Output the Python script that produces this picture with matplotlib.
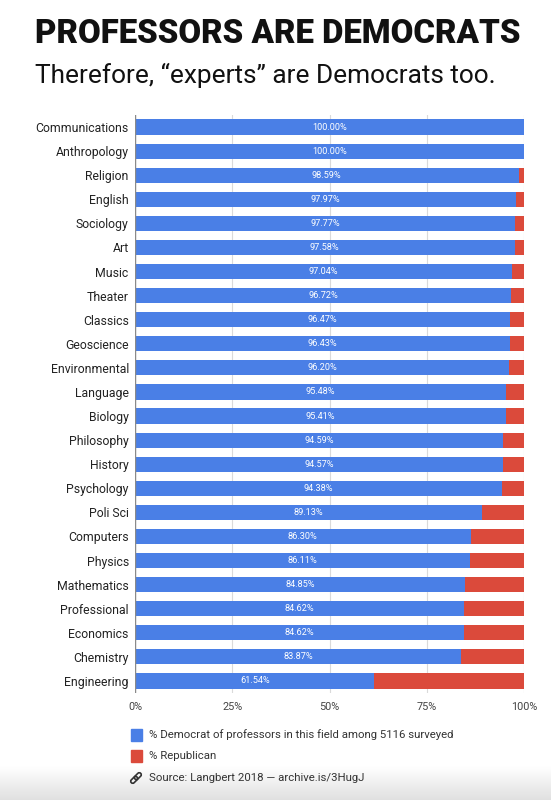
import numpy as np
import matplotlib.pyplot as plt
import matplotlib.transforms as mtransforms
from matplotlib.patches import Rectangle, FancyBboxPatch

fields = ['Communications', 'Anthropology', 'Religion', 'English', 'Sociology',
          'Art', 'Music', 'Theater', 'Classics', 'Geoscience', 'Environmental',
          'Language', 'Biology', 'Philosophy', 'History', 'Psychology',
          'Poli Sci', 'Computers', 'Physics', 'Mathematics', 'Professional',
          'Economics', 'Chemistry', 'Engineering']
democrat = [100.00, 100.00, 98.59, 97.97, 97.77, 97.58, 97.04, 96.72, 96.47,
            96.43, 96.20, 95.48, 95.41, 94.59, 94.57, 94.38, 89.13, 86.30,
            86.11, 84.85, 84.62, 84.62, 83.87, 61.54]
republican = [0.00, 0.00, 1.41, 2.03, 2.23, 2.42, 2.96, 3.28, 3.53,
              3.57, 3.80, 4.52, 4.59, 5.41, 5.43, 5.62, 10.87, 13.70,
              13.89, 15.15, 15.38, 15.38, 16.13, 38.46]
xticks = [0, 25, 50, 75, 100]
xtick_labels = ['0%', '25%', '50%', '75%', '100%']

title = 'PROFESSORS ARE DEMOCRATS'
subtitle = 'Therefore, \u201cexperts\u201d are Democrats too.'
legend_dem = '% Democrat of professors in this field among 5116 surveyed'
legend_rep = '% Republican'
source = 'Source: Langbert 2018 \u2014 archive.is/3HugJ'

blue = '#4a7fe6'
red = '#db4a3b'

plt.rcParams['font.family'] = ['Roboto', 'DejaVu Sans']

W, H = 551, 800
fig = plt.figure(figsize=(W / 100, H / 100), dpi=100)
fig.patch.set_facecolor('white')


def px(x, y):
    # pixel position (from top-left) -> figure fraction
    return x / W, 1 - y / H


def fit(t, width_px):
    fig.canvas.draw()
    r = fig.canvas.get_renderer()
    w = t.get_window_extent(r).width
    t.set_fontsize(t.get_fontsize() * width_px / w)


# grey fade at the bottom of the picture
bg = fig.add_axes([0, 0, 1, 34 / H], zorder=-5)
vals = np.linspace(1.0, 0.88, 40)
img = np.repeat(vals[:, None, None], 3, axis=2)
bg.imshow(img, aspect='auto', interpolation='bilinear')
bg.axis('off')

# main chart
ax = fig.add_axes([135 / W, 1 - 693 / H, (524 - 135) / W, (693 - 115) / H])
y = np.arange(len(fields))
ax.barh(y, democrat, height=0.63, color=blue, zorder=2)
ax.barh(y, republican, left=democrat, height=0.63, color=red, zorder=2)
for yi, d in zip(y, democrat):
    ax.text(d / 2, yi, f'{d:.2f}%', ha='center', va='center',
            color='white', fontsize=6.6, zorder=3)

ax.set_xlim(0, 100)
ax.set_ylim(len(fields) - 0.5, -0.5)
ax.set_xticks(xticks)
ax.set_xticklabels(xtick_labels)
ax.set_yticks(y)
ax.set_yticklabels(fields)
for s in ax.spines.values():
    s.set_visible(False)
ax.set_axisbelow(True)
ax.xaxis.grid(True, color='#dadada', lw=0.8)
ax.axvline(0, color='#8a8a8a', lw=1, zorder=3)
ax.tick_params(axis='x', length=0, labelsize=7.8, labelcolor='#444', pad=6.5)
ax.tick_params(axis='y', length=0, labelsize=8.8, labelcolor='#222', pad=4.5)

# title & subtitle
t1 = fig.text(*px(35, 34), title, fontsize=27, weight='black',
              va='center', ha='left', color='#111')
fit(t1, 485)
t2 = fig.text(*px(35, 75), subtitle, fontsize=21,
              va='center', ha='left', color='#111')
fit(t2, 462)

# legend
fig.add_artist(Rectangle(px(131, 741), 11 / W, 12 / H,
                         transform=fig.transFigure, color=blue))
fig.add_artist(Rectangle(px(131, 762), 11 / W, 12 / H,
                         transform=fig.transFigure, color=red))
l1 = fig.text(*px(149, 735), legend_dem, fontsize=8, va='center',
              ha='left', color='#333')
fit(l1, 306)
fs = l1.get_fontsize()
fig.text(*px(149, 756), legend_rep, fontsize=fs, va='center',
         ha='left', color='#333')
fig.text(*px(149, 778), source, fontsize=fs, va='center',
         ha='left', color='#333')

# link icon (two rotated chain links)
cx, cy = 136, H - 778
rot = (mtransforms.Affine2D().rotate_deg_around(cx, cy, 45)
       + mtransforms.Affine2D().scale(1 / W, 1 / H) + fig.transFigure)
for dx in (-2.6, 2.6):
    link = FancyBboxPatch((cx + dx - 4, cy - 2), 8, 4,
                          boxstyle='round,pad=0,rounding_size=2',
                          fill=False, ec='#333', lw=1.2, transform=rot)
    fig.add_artist(link)

fig.savefig('out.png', dpi=100)
